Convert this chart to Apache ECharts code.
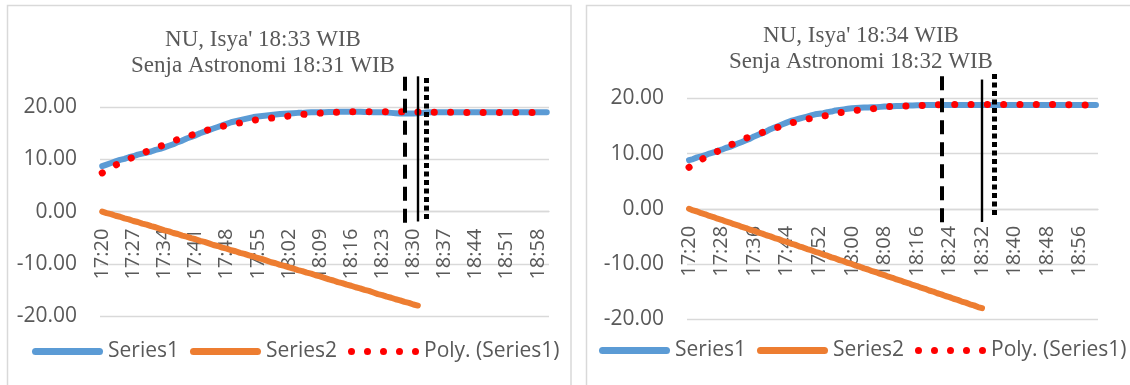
<!DOCTYPE html>
<html>
<head>
<meta charset="utf-8">
<script src="https://cdn.jsdelivr.net/npm/echarts@6/dist/echarts.min.js"></script>
<style>
html,body{margin:0;padding:0;background:#fff;}
#c{width:1130px;height:385px;}
</style>
</head>
<body>
<div id="c"></div>
<script>
// Categories: one per minute, 17:20 .. 19:00
const times = [
'17:20','17:21','17:22','17:23','17:24','17:25','17:26','17:27','17:28','17:29',
'17:30','17:31','17:32','17:33','17:34','17:35','17:36','17:37','17:38','17:39',
'17:40','17:41','17:42','17:43','17:44','17:45','17:46','17:47','17:48','17:49',
'17:50','17:51','17:52','17:53','17:54','17:55','17:56','17:57','17:58','17:59',
'18:00','18:01','18:02','18:03','18:04','18:05','18:06','18:07','18:08','18:09',
'18:10','18:11','18:12','18:13','18:14','18:15','18:16','18:17','18:18','18:19',
'18:20','18:21','18:22','18:23','18:24','18:25','18:26','18:27','18:28','18:29',
'18:30','18:31','18:32','18:33','18:34','18:35','18:36','18:37','18:38','18:39',
'18:40','18:41','18:42','18:43','18:44','18:45','18:46','18:47','18:48','18:49',
'18:50','18:51','18:52','18:53','18:54','18:55','18:56','18:57','18:58','18:59',
'19:00'];

// Left panel
const leftTitle = "NU, Isya' 18:33 WIB\nSenja Astronomi 18:31 WIB";
const leftSeries1 = [
8.7,9.0,9.3,9.6,9.9,10.1,10.4,10.6,10.9,11.1,
11.3,11.5,11.8,12.0,12.3,12.6,12.9,13.3,13.6,14.0,
14.3,14.6,15.0,15.3,15.6,15.9,16.2,16.5,16.8,17.1,
17.3,17.5,17.7,17.9,18.1,18.2,18.3,18.4,18.5,18.6,
18.7,18.75,18.8,18.85,18.9,18.9,18.95,19.0,19.0,19.0,
19.0,19.05,19.05,19.1,19.1,19.1,19.1,19.1,19.1,19.05,
19.05,19.0,19.0,19.0,18.95,18.9,18.85,18.8,18.8,18.8,
18.8,18.85,18.9,18.95,19.0,19.0,19.0,19.0,19.0,19.0,
19.0,19.0,19.0,19.0,19.0,19.0,19.0,19.0,19.0,19.0,
19.0,19.0,19.0,19.0,19.0,19.0,19.0,19.0,19.0,19.0,
19.0];
const leftSeries2 = [
0,-0.3,-0.5,-0.8,-1.0,-1.3,-1.5,-1.8,-2.0,-2.3,
-2.5,-2.8,-3.0,-3.3,-3.6,-3.8,-4.1,-4.3,-4.6,-4.8,
-5.1,-5.3,-5.6,-5.8,-6.1,-6.4,-6.6,-6.9,-7.1,-7.4,
-7.6,-7.9,-8.1,-8.4,-8.6,-8.9,-9.1,-9.4,-9.7,-9.9,
-10.2,-10.4,-10.7,-10.9,-11.2,-11.4,-11.7,-11.9,-12.2,-12.4,
-12.7,-13.0,-13.2,-13.5,-13.7,-14.0,-14.2,-14.5,-14.7,-15.0,
-15.2,-15.5,-15.8,-16.0,-16.3,-16.5,-16.8,-17.0,-17.3,-17.5,
-17.8,-18.0];
const leftPoly = [
7.4,7.9,8.4,8.9,9.3,9.7,10.1,10.4,10.8,11.1,
11.5,11.8,12.2,12.5,12.8,13.2,13.5,13.8,14.1,14.4,
14.6,14.9,15.2,15.4,15.7,15.9,16.1,16.3,16.5,16.7,
16.8,17.0,17.2,17.3,17.5,17.6,17.7,17.8,17.9,18.0,
18.1,18.2,18.3,18.4,18.5,18.6,18.65,18.7,18.8,18.85,
18.9,18.95,19.0,19.0,19.05,19.05,19.1,19.1,19.1,19.1,
19.1,19.1,19.1,19.1,19.1,19.1,19.1,19.1,19.1,19.1,
19.1,19.05,19.05,19.05,19.0,19.0,19.0,19.0,19.0,19.0,
19.0,18.95,18.95,18.95,18.95,18.95,18.95,18.95,18.95,18.95,
18.95,18.95,18.95,18.95,18.95,18.95,18.95,18.95,18.95,18.95,
18.95];
// vertical markers: [time, top value, bottom value]
const leftMarkers = [['18:28',25.8,-3.4],['18:31',25.9,-1.9],['18:33',25.6,-1.9]];

// Right panel
const rightTitle = "NU, Isya' 18:34 WIB\nSenja Astronomi 18:32 WIB";
const rightSeries1 = [
8.8,9.0,9.3,9.5,9.7,10.0,10.2,10.5,10.7,11.0,
11.2,11.5,11.8,12.1,12.4,12.7,13.1,13.4,13.7,14.0,
14.4,14.7,15.0,15.3,15.6,15.9,16.1,16.3,16.5,16.7,
16.9,17.1,17.2,17.3,17.5,17.6,17.8,17.9,18.0,18.1,
18.2,18.25,18.3,18.35,18.35,18.4,18.4,18.45,18.5,18.5,
18.55,18.6,18.6,18.65,18.7,18.7,18.75,18.75,18.8,18.8,
18.8,18.8,18.8,18.8,18.8,18.8,18.8,18.8,18.8,18.8,
18.8,18.8,18.8,18.8,18.8,18.8,18.8,18.8,18.8,18.8,
18.8,18.8,18.8,18.8,18.8,18.8,18.8,18.8,18.8,18.8,
18.8,18.8,18.8,18.8,18.8,18.8,18.8,18.8,18.8,18.8,
18.8];
const rightSeries2 = [
0,-0.3,-0.5,-0.8,-1.0,-1.3,-1.5,-1.8,-2.0,-2.3,
-2.5,-2.8,-3.0,-3.3,-3.5,-3.8,-4.0,-4.3,-4.5,-4.8,
-5.0,-5.3,-5.5,-5.8,-6.0,-6.3,-6.5,-6.8,-7.0,-7.3,
-7.5,-7.8,-8.0,-8.3,-8.5,-8.8,-9.0,-9.3,-9.5,-9.8,
-10.0,-10.3,-10.5,-10.8,-11.0,-11.3,-11.5,-11.8,-12.0,-12.3,
-12.5,-12.8,-13.0,-13.3,-13.5,-13.8,-14.0,-14.3,-14.5,-14.8,
-15.0,-15.3,-15.5,-15.8,-16.0,-16.3,-16.5,-16.8,-17.0,-17.3,
-17.5,-17.8,-18.0];
const rightPoly = [
7.5,8.0,8.5,8.9,9.3,9.7,10.0,10.4,10.8,11.1,
11.5,11.8,12.1,12.5,12.8,13.0,13.3,13.6,13.8,14.1,
14.3,14.5,14.8,15.0,15.2,15.5,15.7,15.9,16.0,16.2,
16.4,16.5,16.7,16.8,16.9,17.1,17.2,17.4,17.5,17.6,
17.7,17.8,17.9,17.95,18.0,18.1,18.2,18.3,18.4,18.5,
18.5,18.55,18.6,18.6,18.65,18.65,18.7,18.7,18.75,18.75,
18.8,18.8,18.85,18.85,18.85,18.9,18.9,18.9,18.9,18.9,
18.9,18.9,18.9,18.9,18.9,18.9,18.9,18.9,18.9,18.9,
18.9,18.9,18.9,18.9,18.9,18.9,18.9,18.9,18.9,18.9,
18.85,18.85,18.85,18.85,18.8,18.8,18.8,18.8,18.8,18.8,
18.8];
const rightMarkers = [['18:22',24.0,-3.0],['18:32',23.4,-2.4],['18:35',24.4,-1.5]];

const yMin = -20, yInterval = 10;
const legendNames = ['Series1','Series2','Poly. (Series1)'];

const GRID = '#D9D9D9', TXT = '#595959';
const BLUE = '#5B9BD5', ORANGE = '#ED7D31', RED = '#FF0000';
const sans = 'Open Sans';

const lineIcon = 'path://M3.5,0H67.5A3.5,3.5 0 0 1 67.5,7H3.5A3.5,3.5 0 0 1 3.5,0Z';
const dotIcon = 'path://M0,3.5a3.5,3.5 0 1,0 7,0a3.5,3.5 0 1,0 -7,0Z' +
  'M16,3.5a3.5,3.5 0 1,0 7,0a3.5,3.5 0 1,0 -7,0Z' +
  'M32,3.5a3.5,3.5 0 1,0 7,0a3.5,3.5 0 1,0 -7,0Z' +
  'M48,3.5a3.5,3.5 0 1,0 7,0a3.5,3.5 0 1,0 -7,0Z' +
  'M64,3.5a3.5,3.5 0 1,0 7,0a3.5,3.5 0 1,0 -7,0Z';

const markerStyles = [
  {color:'#000', width:4, type:[14,8]},
  {color:'#000', width:2.4, type:'solid'},
  {color:'#000', width:5, type:[5,3.5]}
];

function markLineFor(markers){
  return {
    silent:true, symbol:['none','none'], animation:false,
    label:{show:false},
    emphasis:{disabled:true},
    data: markers.map((m,i)=>[
      {xAxis:m[0], yAxis:m[1], lineStyle:markerStyles[i]},
      {xAxis:m[0], yAxis:m[2]}
    ])
  };
}

function seriesFor(idx, s1, s2, poly, markers){
  return [
    {name:'Series1', type:'line', xAxisIndex:idx, yAxisIndex:idx, data:s1, symbol:'none',
     lineStyle:{color:BLUE, width:6, cap:'round', join:'round'}, itemStyle:{color:BLUE}, z:2, animation:false},
    {name:'Series2', type:'line', xAxisIndex:idx, yAxisIndex:idx, data:s2, symbol:'none',
     lineStyle:{color:ORANGE, width:6, cap:'round', join:'round'}, itemStyle:{color:ORANGE}, z:3, animation:false,
     markLine: markLineFor(markers)},
    {name:'Poly. (Series1)', type:'line', xAxisIndex:idx, yAxisIndex:idx, data:poly, symbol:'none',
     lineStyle:{color:RED, width:7, cap:'round', type:[0.1,16.2]}, itemStyle:{color:RED}, z:4, animation:false}
  ];
}

function xAxisFor(idx, interval, gridH, yMax){
  return {
    type:'category', gridIndex:idx, data:times, boundaryGap:true, position:'bottom',
    offset: -gridH * (0 - yMin) / (yMax - yMin),
    axisLine:{show:true, onZero:false, lineStyle:{color:GRID, width:1.3}},
    axisTick:{show:false},
    axisLabel:{interval:interval, rotate:90, color:TXT, fontFamily:sans, fontSize:20, margin:17},
    splitLine:{show:false}
  };
}
function yAxisFor(idx, max){
  return {
    type:'value', gridIndex:idx, min:yMin, max:max, interval:yInterval,
    axisLine:{show:false}, axisTick:{show:false},
    axisLabel:{color:TXT, fontFamily:sans, fontSize:21, margin:23, showMaxLabel:false,
      formatter:v=>v.toFixed(2)},
    splitLine:{show:true, showMaxLine:false, lineStyle:{color:GRID, width:1.3}}
  };
}

function legendFor(left, top){
  return {
    data:[
      {name:legendNames[0], icon:lineIcon},
      {name:legendNames[1], icon:lineIcon},
      {name:legendNames[2], icon:dotIcon}
    ],
    left:left, top:top, width:600, padding:0, itemWidth:71, itemHeight:7, itemGap:11,
    textStyle:{color:TXT, fontFamily:sans, fontSize:21}
  };
}

const grids = [
  {left:100, top:75.8, width:449, height:240.2, yMax:26},
  {left:687, top:70.7, width:411, height:248.5, yMax:25}
];

const chart = echarts.init(document.getElementById('c'), null, {renderer:'canvas'});
chart.setOption({
  backgroundColor:'#fff',
  animation:false,
  graphic:[
    {type:'rect', shape:{x:7.5, y:5.5, width:563.5, height:400}, style:{fill:'none', stroke:GRID, lineWidth:1.5}, silent:true, z:-10},
    {type:'rect', shape:{x:586.5, y:5.5, width:560, height:400}, style:{fill:'none', stroke:GRID, lineWidth:1.5}, silent:true, z:-10}
  ],
  title:[
    {text:leftTitle, left:258, top:22, textAlign:'center',
     textStyle:{fontFamily:'Liberation Serif', fontWeight:'normal', fontSize:23, lineHeight:26, color:TXT}},
    {text:rightTitle, left:856, top:18, textAlign:'center',
     textStyle:{fontFamily:'Liberation Serif', fontWeight:'normal', fontSize:23, lineHeight:26, color:TXT}}
  ],
  legend:[legendFor(32, 341), legendFor(599, 340)],
  grid: grids.map(g=>({left:g.left, top:g.top, width:g.width, height:g.height})),
  xAxis:[xAxisFor(0,6,grids[0].height,grids[0].yMax), xAxisFor(1,7,grids[1].height,grids[1].yMax)],
  yAxis:[yAxisFor(0,grids[0].yMax), yAxisFor(1,grids[1].yMax)],
  series:[].concat(
    seriesFor(0, leftSeries1, leftSeries2, leftPoly, leftMarkers),
    seriesFor(1, rightSeries1, rightSeries2, rightPoly, rightMarkers)
  )
});
</script>
</body>
</html>
